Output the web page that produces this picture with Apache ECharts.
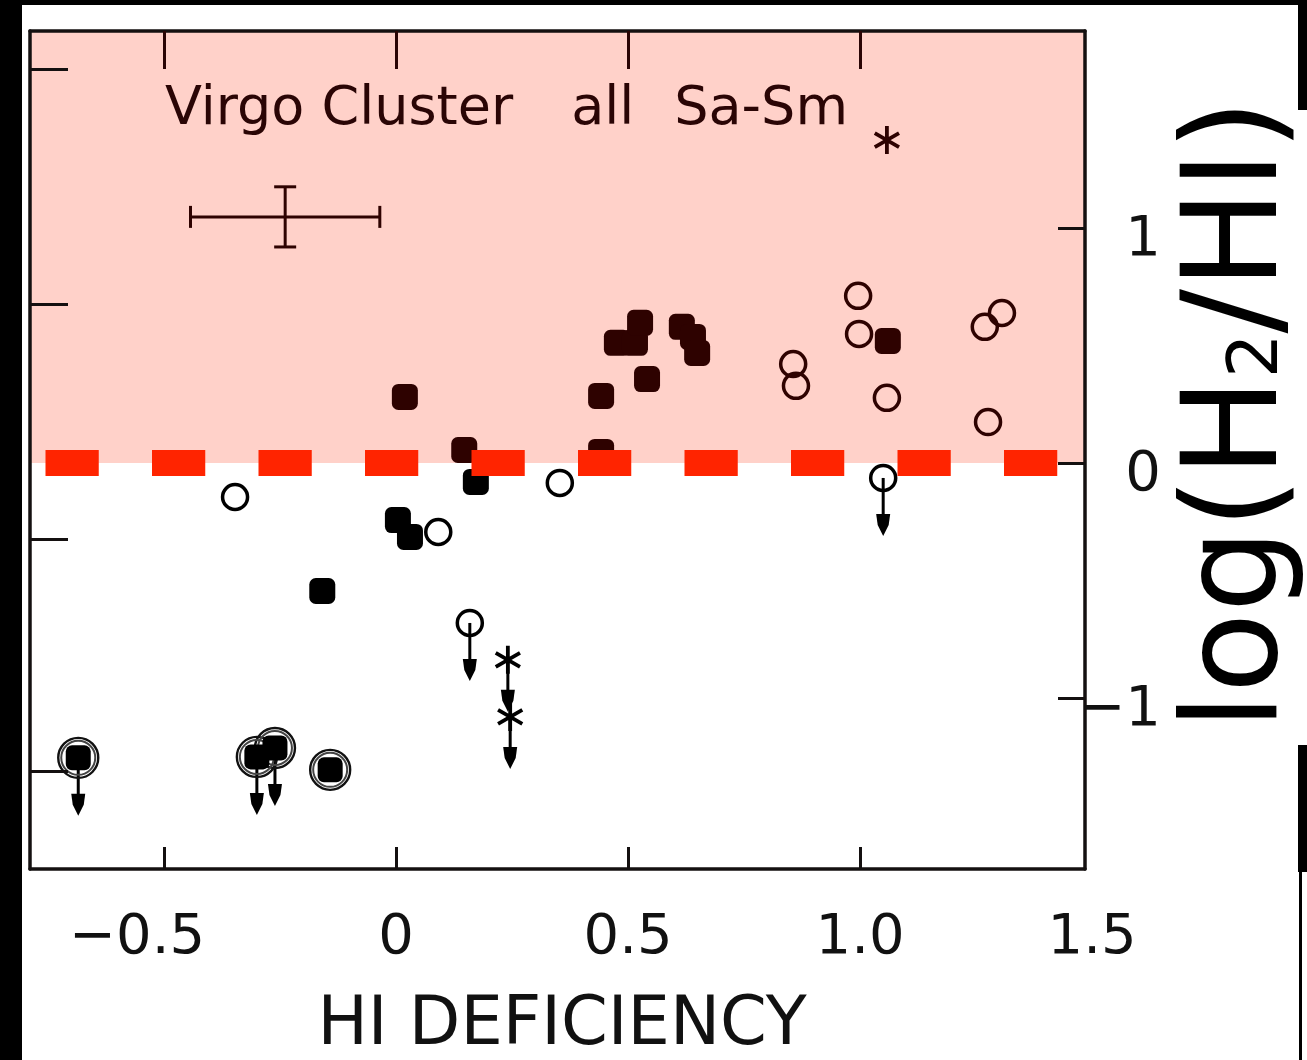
<!DOCTYPE html>
<html><head><meta charset="utf-8">
<script src="https://cdn.jsdelivr.net/npm/echarts@6/dist/echarts.min.js"></script>
<style>html,body{margin:0;padding:0;background:#fff}#c{width:1307px;height:1060px}</style>
</head><body><div id="c"></div>
<script>
// ---- axis ticks / labels ----
const xTickValues = [-0.5, 0, 0.5, 1.0];
const xLabelValues = [-0.5, 0, 0.5, 1.0, 1.5];
const xTickLabels = ['−0.5', '0', '0.5', '1.0', '1.5'];
const yTickValues = [-1, 0, 1];
const yTickLabels = ['−1', '0', '1'];
const leftTickValues = [-1.31, -0.325, 0.675, 1.675];
const xRange = [-0.789, 1.485];
const yRange = [-1.728, 1.838];

// ---- data (HI deficiency, log(H2/HI)) ----
const filledSquares = [
  [0.019, 0.281], [0.442, 0.285], [0.476, 0.511], [0.515, 0.511], [0.526, 0.596],
  [0.541, 0.357], [0.616, 0.579], [0.640, 0.536], [0.649, 0.468], [1.060, 0.519],
  [0.442, 0.047], [0.147, 0.055], [0.172, -0.081], [0.004, -0.243], [0.030, -0.315],
  [-0.159, -0.545]
];
const openCircles = [
  [-0.347, -0.145], [0.091, -0.294], [0.353, -0.085], [0.996, 0.711], [0.998, 0.549],
  [0.856, 0.421], [0.862, 0.328], [1.058, 0.277], [1.269, 0.579], [1.306, 0.638],
  [1.276, 0.174]
];
const openCirclesLimit = [[0.159, -0.681], [1.050, -0.064]];
const circledSquaresLimit = [[-0.685, -1.255], [-0.300, -1.251], [-0.261, -1.213]];
const circledSquares = [[-0.142, -1.306]];
const asterisks = [[1.058, 1.374]];
const asterisksLimit = [[0.241, -0.838], [0.246, -1.081]];
const errorBarCenter = [-0.239, 1.047];
const errorBarHalf = [0.204, 0.128];

const BROWN = '#2e0200';
const inkFor = y => (y > 0 ? BROWN : '#000');

const chart = echarts.init(document.getElementById('c'), null, {renderer: 'canvas'});

function withInk(arr, kind) {
  return arr.map(p => {
    const c = inkFor(p[1]);
    if (kind === 'fill') return {value: p, itemStyle: {color: c}};
    return {value: p, itemStyle: {color: 'none', borderColor: c}};
  });
}

function arrowItem(len) {
  return function (params, api) {
    const p = api.coord([api.value(0), api.value(1)]);
    const x = p[0], y0 = p[1], y1 = p[1] + len;
    const c = '#000';
    return {
      type: 'group',
      children: [
        {type: 'line', shape: {x1: x, y1: y0, x2: x, y2: y1 - 12}, style: {stroke: c, lineWidth: 3}},
        {type: 'polygon', shape: {points: [[x - 7, y1 - 22], [x + 7, y1 - 22], [x + 5.5, y1 - 11], [x, y1], [x - 5.5, y1 - 11]]}, style: {fill: c}}
      ]
    };
  };
}

const axisCommon = {
  z: 6,
  axisLine: {show: true, onZero: false, lineStyle: {color: '#141010', width: 3.5}},
  splitLine: {show: false},
  axisLabel: {show: false}
};

const option = {
  animation: false,
  backgroundColor: '#fff',
  grid: [
    {left: 30, right: 1307 - 1085, top: 31, bottom: 1060 - 869},
    {left: 30, width: (1.5 - xRange[0]) * 464, top: 31, bottom: 1060 - 869}
  ],
  xAxis: [
    Object.assign({}, axisCommon, {
      type: 'value', gridIndex: 0, position: 'bottom', min: xRange[0], max: xRange[1],
      axisTick: {show: true, inside: true, length: 22, customValues: xTickValues, lineStyle: {color: '#141010', width: 3}}
    }),
    Object.assign({}, axisCommon, {
      type: 'value', gridIndex: 0, position: 'top', min: xRange[0], max: xRange[1],
      axisTick: {show: true, inside: true, length: 38, customValues: xTickValues, lineStyle: {color: '#2a0505', width: 3}}
    }),
    {
      type: 'value', gridIndex: 1, position: 'bottom', min: xRange[0], max: 1.5,
      axisLine: {show: false}, axisTick: {show: false}, splitLine: {show: false},
      axisLabel: {
        show: true, customValues: xLabelValues, margin: 41,
        fontFamily: 'DejaVu Sans', fontSize: 56, color: '#111',
        formatter: function (v) {
          const i = xLabelValues.findIndex(t => Math.abs(t - v) < 1e-6);
          const s = i >= 0 ? xTickLabels[i] : '';
          return v < 0 ? '{neg|' + s + '}' : s;
        },
        rich: {neg: {fontFamily: 'DejaVu Sans', fontSize: 56, color: '#111', padding: [0, 54, 0, 0]}}
      }
    }
  ],
  yAxis: [
    Object.assign({}, axisCommon, {
      type: 'value', gridIndex: 0, position: 'left', min: yRange[0], max: yRange[1],
      axisTick: {show: true, inside: true, length: 38, customValues: leftTickValues, lineStyle: {color: '#141010', width: 3}}
    }),
    Object.assign({}, axisCommon, {
      type: 'value', gridIndex: 0, position: 'right', min: yRange[0], max: yRange[1],
      axisTick: {show: true, inside: true, length: 27, customValues: yTickValues, lineStyle: {color: '#141010', width: 3}},
      axisLabel: {
        show: true, customValues: yTickValues, margin: 76, align: 'right',
        verticalAlign: 'top', lineHeight: 26,
        fontFamily: 'DejaVu Sans', fontSize: 56, color: '#111',
        formatter: function (v) {
          const i = yTickValues.findIndex(t => Math.abs(t - v) < 1e-6);
          return i >= 0 ? yTickLabels[i] : '';
        }
      }
    }),
    {type: 'value', gridIndex: 1, show: false, min: yRange[0], max: yRange[1]}
  ],
  series: [
    {
      type: 'scatter', xAxisIndex: 0, yAxisIndex: 0,
      symbol: 'roundRect', symbolSize: 26,
      itemStyle: {opacity: 1},
      data: withInk(filledSquares, 'fill'),
      markArea: {
        silent: true, z: 1,
        itemStyle: {color: '#ffd1c9', opacity: 1},
        data: [[{yAxis: 0}, {yAxis: yRange[1]}]]
      },
      markLine: {
        silent: true, symbol: 'none', z: 5,
        label: {show: false},
        lineStyle: {color: '#ff2400', width: 26, type: [53.25, 53.25], dashOffset: 91, cap: 'butt', opacity: 1},
        data: [{yAxis: 0}]
      }
    },
    {
      type: 'scatter', xAxisIndex: 0, yAxisIndex: 0,
      symbol: 'circle', symbolSize: 25,
      itemStyle: {borderWidth: 3.5, opacity: 1},
      data: withInk(openCircles.concat(openCirclesLimit), 'stroke')
    },
    {
      type: 'scatter', xAxisIndex: 0, yAxisIndex: 0,
      symbol: 'circle', symbolSize: 40,
      itemStyle: {color: 'none', borderColor: '#111', borderWidth: 2.4, opacity: 1},
      data: circledSquaresLimit.concat(circledSquares)
    },
    {
      type: 'scatter', xAxisIndex: 0, yAxisIndex: 0,
      symbol: 'circle', symbolSize: 34,
      itemStyle: {color: 'none', borderColor: '#444', borderWidth: 2, opacity: 1},
      data: circledSquaresLimit.concat(circledSquares)
    },
    {
      type: 'scatter', xAxisIndex: 0, yAxisIndex: 0,
      symbol: 'roundRect', symbolSize: 25,
      itemStyle: {color: '#000', opacity: 1},
      data: circledSquaresLimit.concat(circledSquares)
    },
    {
      type: 'scatter', xAxisIndex: 0, yAxisIndex: 0,
      symbol: 'path://M10,0L10,20M1.34,5L18.66,15M1.34,15L18.66,5',
      symbolKeepAspect: true, symbolSize: 28,
      itemStyle: {borderWidth: 3.8, opacity: 1},
      data: withInk(asterisks.concat(asterisksLimit), 'stroke')
    },
    {
      type: 'custom', xAxisIndex: 0, yAxisIndex: 0,
      renderItem: arrowItem(58),
      data: circledSquaresLimit.concat(openCirclesLimit)
    },
    {
      type: 'custom', xAxisIndex: 0, yAxisIndex: 0,
      renderItem: arrowItem(52),
      data: asterisksLimit
    },
    {
      type: 'custom', xAxisIndex: 0, yAxisIndex: 0,
      renderItem: function (params, api) {
        const cx = api.value(0), cy = api.value(1), hx = api.value(2), hy = api.value(3);
        const l = api.coord([cx - hx, cy]), r = api.coord([cx + hx, cy]);
        const t = api.coord([cx, cy + hy]), b = api.coord([cx, cy - hy]);
        const st = {stroke: BROWN, lineWidth: 3};
        const cap = 11;
        return {type: 'group', children: [
          {type: 'line', shape: {x1: l[0], y1: l[1], x2: r[0], y2: r[1]}, style: st},
          {type: 'line', shape: {x1: l[0], y1: l[1] - cap, x2: l[0], y2: l[1] + cap}, style: st},
          {type: 'line', shape: {x1: r[0], y1: r[1] - cap, x2: r[0], y2: r[1] + cap}, style: st},
          {type: 'line', shape: {x1: t[0], y1: t[1], x2: b[0], y2: b[1]}, style: st},
          {type: 'line', shape: {x1: t[0] - cap, y1: t[1], x2: t[0] + cap, y2: t[1]}, style: st},
          {type: 'line', shape: {x1: b[0] - cap, y1: b[1], x2: b[0] + cap, y2: b[1]}, style: st}
        ]};
      },
      data: [[errorBarCenter[0], errorBarCenter[1], errorBarHalf[0], errorBarHalf[1]]]
    }
  ],
  graphic: [
    {type: 'rect', left: 0, top: 0, shape: {width: 1307, height: 5}, style: {fill: '#000'}, z: 100},
    {type: 'rect', left: 0, top: 0, shape: {width: 22, height: 1060}, style: {fill: '#000'}, z: 100},
    {type: 'rect', left: 1298, top: 0, shape: {width: 9, height: 110}, style: {fill: '#000'}, z: 100},
    {type: 'rect', left: 1298, top: 745, shape: {width: 9, height: 127}, style: {fill: '#000'}, z: 100},
    {type: 'rect', left: 1299, top: 872, shape: {width: 3, height: 188}, style: {fill: '#000'}, z: 100},
    {
      type: 'text', x: 165, y: 110, z: 50,
      style: {
        text: '{t|Virgo Cluster}{g1|}{t|all}{g2|}{t|Sa-Sm}',
        verticalAlign: 'middle', align: 'left',
        rich: {
          t: {fontFamily: 'DejaVu Sans', fontSize: 54, fill: '#2a0505'},
          g1: {width: 58},
          g2: {width: 40}
        }
      }
    },
    {
      type: 'text', x: 562, y: 1027, z: 50,
      style: {text: 'HI DEFICIENCY', fontFamily: 'DejaVu Sans', fontSize: 67, fill: '#111', align: 'center', verticalAlign: 'middle'}
    },
    {
      type: 'text', x: 1242, y: 730, rotation: Math.PI / 2, z: 60,
      style: {
        text: '{a|log(H}{b|2}{a|/HI)}',
        align: 'left', verticalAlign: 'middle',
        rich: {
          a: {fontFamily: 'DejaVu Sans', fontSize: 132, fill: '#000', verticalAlign: 'bottom'},
          b: {fontFamily: 'DejaVu Sans', fontSize: 70, fill: '#000', verticalAlign: 'bottom', padding: [0, 0, 14, 0]}
        }
      }
    }
  ]
};
chart.setOption(option);
</script></body></html>
